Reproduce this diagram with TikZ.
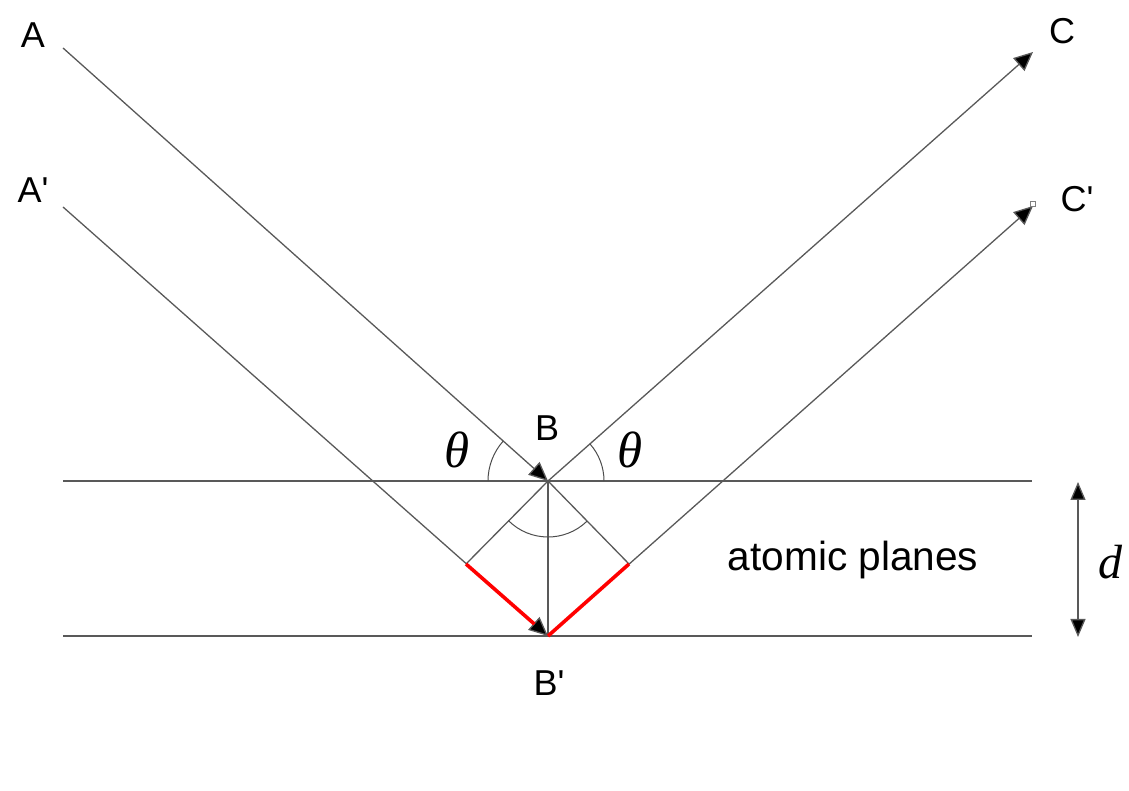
\documentclass[tikz,border=0pt]{standalone}
\usepackage{fontspec}
\setmainfont{Liberation Sans}
\newfontfamily\greekserif{Liberation Serif}
\usetikzlibrary{arrows.meta}
\begin{document}
\begin{tikzpicture}[x=0.5pt,y=0.5pt,
  ray/.style={draw=black!65, line width=0.65pt},
  tipped/.style={ray, -{Triangle[length=9.5pt,width=8.5pt,fill=black]}},
  redseg/.style={draw=red, line width=1.8pt},
  anglearc/.style={draw=black!70, line width=0.5pt},
  lbl/.style={font=\fontsize{18}{20}\selectfont, inner sep=0pt},
  mathlbl/.style={font=\greekserif\itshape\fontsize{25.5}{28}\selectfont, inner sep=0pt}]
\useasboundingbox (0,0) rectangle (1129,791);
% key points
\coordinate (As) at (63,743);
\coordinate (Aps) at (63,584);
\coordinate (B) at (548,310);
\coordinate (Bp) at (548,155);
\coordinate (P1) at (466,227);
\coordinate (P2) at (629,227);
\coordinate (Ct) at (1033,739);
\coordinate (Cpt) at (1033,585);
\coordinate (L1) at (63,310);
\coordinate (R1) at (1032,310);
\coordinate (L2) at (63,155);
\coordinate (R2) at (1032,155);
\coordinate (Dt) at (1078,309);
\coordinate (Db) at (1078,154);
% planes
\draw[ray] (L1) -- (R1);
\draw[ray] (L2) -- (R2);
% rays
\draw[tipped] (As) -- (B);
\draw[tipped] (B) -- (Ct);
\draw[tipped] (Aps) -- (Bp);
\draw[tipped] (Bp) -- (Cpt);
\node[draw=black!50, fill=white, line width=0.4pt, minimum size=2.5pt, inner sep=0pt] (Csq) at (1033,587) {};
% construction lines
\draw[ray] (B) -- (P1);
\draw[ray] (B) -- (P2);
\draw[ray] (B) -- (Bp);
% path difference
\draw[redseg, shorten >=9pt] (P1) -- (Bp);
\draw[redseg] (Bp) -- (P2);
% angle arcs
\draw[anglearc] ([shift={(180:60)}]B) arc[start angle=180, end angle=138.2, radius=60];
\draw[anglearc] ([shift={(0:56)}]B) arc[start angle=0, end angle=41.5, radius=56];
\draw[anglearc] ([shift={(225:56)}]B) arc[start angle=225, end angle=314, radius=56];
% spacing arrow
\draw[draw=black!65, line width=0.65pt, {Triangle[length=9pt,width=7.5pt,fill=black]}-{Triangle[length=9pt,width=7.5pt,fill=black]}] (Dt) -- (Db);
% labels
\node[lbl] (lA) at (33,756) {A};
\node[lbl] (lAp) at (33,601) {A\textquotesingle};
\node[lbl] (lC) at (1062,760) {C};
\node[lbl] (lCp) at (1077,592) {C\textquotesingle};
\node[lbl] (lB) at (547,363) {B};
\node[lbl] (lBp) at (549,108) {B\textquotesingle};
\node[mathlbl] (t1) at (457,341) {θ};
\node[mathlbl] (t2) at (630,341) {θ};
\node[mathlbl, font=\greekserif\itshape\fontsize{24}{28}\selectfont] (ld) at (1110,229) {d};
\node[lbl, font=\fontsize{20.3}{23}\selectfont] (ap) at (853,231) {atomic planes};
\end{tikzpicture}
\end{document}
